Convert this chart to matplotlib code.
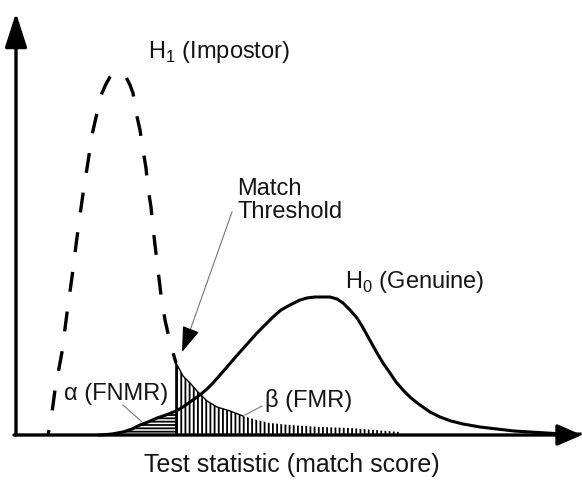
import numpy as np
import matplotlib.pyplot as plt

# schematic curves (score on x, density on y)
impostor_score = [48, 51, 55, 62, 67, 72, 76, 80, 84, 88, 92, 97, 102, 106, 110, 114, 118,
                  122, 126, 130, 133, 136, 140, 143, 146, 148, 151, 153, 155, 158, 161, 165, 170, 176,
                  183, 190, 197, 207, 217, 230, 243, 257, 270, 290, 320, 350, 375, 400]
impostor_density = [0, 15, 45, 83, 122, 158, 190, 220, 248, 273, 300, 322, 342, 351, 358, 362, 363,
                    362, 358, 350, 342, 323, 305, 285, 267, 247, 228, 208, 190, 165, 140, 115, 93, 72,
                    59, 52, 44, 34, 28, 24, 19, 15, 12, 10, 8, 7, 5, 3]

genuine_score = [100, 112, 123, 132, 140, 148, 157, 166, 176, 183, 190, 200, 207, 213, 220,
                 227, 233, 240, 248, 257, 265, 273, 281, 290, 300, 307, 315, 323, 330, 337,
                 343, 350, 357, 362, 367, 372, 377, 383, 390, 396, 403, 411, 420, 430, 440,
                 451, 463, 480, 497, 514, 530, 547, 563, 580]
genuine_density = [0, 1, 3, 6, 10, 13, 17, 20, 24, 28, 33, 40, 46, 52, 60,
                   68, 75, 83, 92, 102, 110, 118, 125, 130, 135, 137, 138, 138, 138, 136,
                   132, 125, 117, 109, 100, 91, 82, 72, 62, 53, 45, 37, 30, 23, 18,
                   14, 11, 8, 6, 4, 3, 2, 1, 1]

threshold = 176

labels = {
    "impostor": "H$_\\mathrm{1}$ (Impostor)",
    "genuine": "H$_\\mathrm{0}$ (Genuine)",
    "threshold": "Match\nThreshold",
    "alpha": "\u03b1 (FNMR)",
    "beta": "\u03b2 (FMR)",
    "xlabel": "Test statistic (match score)",
}

plt.rcParams['font.family'] = ['Liberation Sans', 'DejaVu Sans']
plt.rcParams['mathtext.fontset'] = 'custom'
plt.rcParams['mathtext.rm'] = 'Liberation Sans'
plt.rcParams['hatch.linewidth'] = 1.3

imp_x = np.array(impostor_score)
imp_y = np.array(impostor_density)
gen_x = np.array(genuine_score)
gen_y = np.array(genuine_density)

fig = plt.figure(figsize=(5.82, 4.8), dpi=100)
ax = fig.add_axes([0, 0, 1, 1])
ax.set_xlim(0, 582)
ax.set_ylim(-45, 435)
ax.axis('off')

# shaded error regions
left = gen_x <= threshold
ax.fill_between(gen_x[left], 0, gen_y[left], facecolor='none', edgecolor='black',
                hatch='-----', linewidth=0)
right = imp_x >= threshold
ax.fill_between(imp_x[right], 0, imp_y[right], facecolor='none', edgecolor='black',
                hatch='||||', linewidth=0)
ax.plot(imp_x[right][:8], imp_y[right][:8], color='black', lw=1.0)
ax.plot([threshold, threshold], [0, imp_y[imp_x == threshold][0]], color='black', lw=1.2)

# distributions
ax.plot(imp_x[imp_x <= threshold], imp_y[imp_x <= threshold], color='black', lw=2.4,
        linestyle=(4.5, (6, 6)), dash_capstyle='butt')
ax.plot(gen_x, gen_y, color='black', lw=2.2, solid_joinstyle='round')

# axes with arrows
ax.annotate('', xy=(16, 422), xytext=(16, 0),
            arrowprops=dict(arrowstyle='-|>,head_length=2.1,head_width=0.68',
                            color='black', lw=2.4, shrinkA=0, shrinkB=0, mutation_scale=10))
ax.annotate('', xy=(582, 0), xytext=(14, 0),
            arrowprops=dict(arrowstyle='-|>,head_length=1.5,head_width=0.65',
                            color='black', lw=2.4, shrinkA=0, shrinkB=0, mutation_scale=10))

# labels
tc = '#151515'
ax.text(148, 377, labels["impostor"], fontsize=17, color=tc, va='baseline')
ax.text(345, 147, labels["genuine"], fontsize=17, color=tc, va='baseline')
ax.text(237, 257, labels["threshold"], fontsize=17, color=tc, va='top', linespacing=1.05)
ax.text(64, 35, labels["alpha"], fontsize=17, color=tc, va='baseline')
ax.text(265, 28, labels["beta"], fontsize=17, color=tc, va='baseline')
ax.text(292, -30, labels["xlabel"], fontsize=18, color=tc, ha='center', va='center')

# leader lines
ax.plot([232, 187], [223, 96], color='#777777', lw=0.8)
ax.annotate('', xy=(182, 83), xytext=(189, 101),
            arrowprops=dict(arrowstyle='-|>,head_length=1.6,head_width=0.55',
                            color='black', lw=0.8, shrinkA=0, shrinkB=0, mutation_scale=10))
ax.plot([123, 142], [30, 13], color='#777777', lw=0.8)
ax.plot([262, 245], [29, 20], color='#777777', lw=0.8)

fig.savefig('out.png', dpi=100)
